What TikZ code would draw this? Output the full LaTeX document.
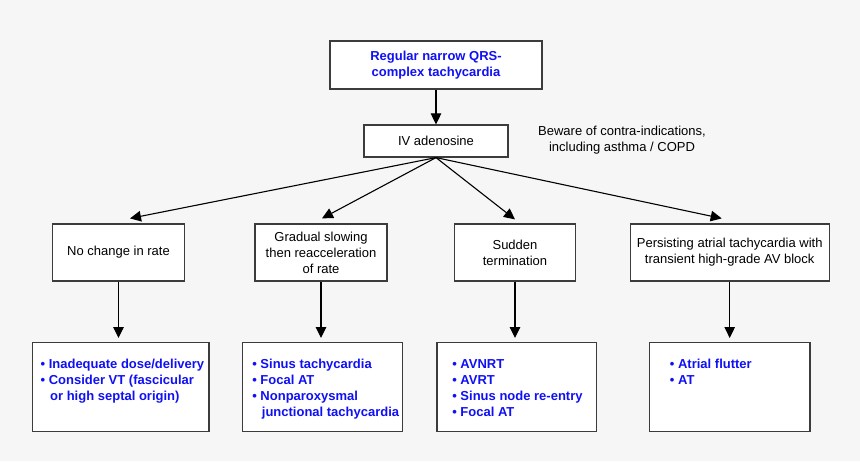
\documentclass[tikz,border=0pt]{standalone}
\usepackage{fontspec}
\setmainfont{Liberation Sans}
\usetikzlibrary{arrows.meta}
\definecolor{bgc}{HTML}{F6F6F6}
\definecolor{qblue}{HTML}{1010F5}
\definecolor{boxc}{HTML}{3C3C3C}
\newcommand{\reslist}[3]{\parbox[c][89pt][t]{#1}{\leftskip=#2\relax\baselineskip=16pt\rule{0pt}{25.5pt}#3}}
\newcommand{\bl}[1]{\mbox{\makebox[8.2pt][l]{\textbullet}#1}}
\newcommand{\cont}[1]{\mbox{\hspace*{9.6pt}#1}}

\begin{document}
\begin{tikzpicture}[x=1pt,y=-1pt,font=\fontsize{13}{16}\selectfont,
  box/.style={draw=boxc,line width=1.2pt,fill=white,inner sep=0pt,align=center},
  res/.style={box,font=\fontsize{13}{16}\selectfont\bfseries\color{qblue}},
  arr/.style={line width=1.1pt,-{Triangle[length=11pt,width=10.5pt]}}]
  \fill[bgc] (0,0) rectangle (860,461);
  \useasboundingbox (0,0) rectangle (860,461);
  % top of the chart
  \node[box,minimum width=212pt,minimum height=48pt,font=\fontsize{13}{16}\selectfont\bfseries\color{qblue}] (qrs) at (436,65) {Regular narrow QRS-\\complex tachycardia};
  \node[box,minimum width=144pt,minimum height=32pt] (iv) at (436,141) {IV adenosine};
  \node[align=center] (note) at (622,140) {Beware of contra-indications,\\including asthma / COPD};
  % responses
  \node[box,minimum width=132pt,minimum height=57pt] (nochg) at (118.5,252.5) {No change in rate};
  \node[box,minimum width=132pt,minimum height=57pt] (slow) at (321,252.5) {Gradual slowing\\then reacceleration\\of rate};
  \node[box,minimum width=121pt,minimum height=57pt] (stop) at (515,252.5) {Sudden\\termination};
  \node[box,minimum width=199pt,minimum height=57pt] (block) at (729.7,252.5) {Persisting atrial tachycardia with\\transient high-grade AV block};
  % diagnoses
  \node[res,anchor=north west] (dx1) at (31.7,342) {\reslist{176.6pt}{8.3pt}{\bl{Inadequate dose/delivery}\\\bl{Consider VT (fascicular}\\\cont{or high septal origin)}}};
  \node[res,anchor=north west] (dx2) at (241.7,342) {\reslist{160.3pt}{10pt}{\bl{Sinus tachycardia}\\\bl{Focal AT}\\\bl{Nonparoxysmal}\\\cont{junctional tachycardia}}};
  \node[res,anchor=north west] (dx3) at (436.3,342) {\reslist{159.7pt}{15.4pt}{\bl{AVNRT}\\\bl{AVRT}\\\bl{Sinus node re-entry}\\\bl{Focal AT}}};
  \node[res,anchor=north west] (dx4) at (648.7,342) {\reslist{160.6pt}{20.6pt}{\bl{Atrial flutter}\\\bl{AT}}};
  % arrows
  \draw[arr] (qrs) -- (iv);
  \draw[arr] (iv.south) -- ([xshift=11.5pt,yshift=5pt]nochg.north);
  \draw[arr] (iv.south) -- ([xshift=1pt,yshift=5pt]slow.north);
  \draw[arr] (iv.south) -- ([yshift=4pt]stop.north);
  \draw[arr] (iv.south) -- ([xshift=-8pt,yshift=5pt]block.north);
  \draw[arr,shorten >=4pt] (nochg.south) -- (nochg.south |- dx1.north);
  \draw[arr,shorten >=4pt] (slow.south) -- (slow.south |- dx2.north);
  \draw[arr,shorten >=4pt] (stop.south) -- (stop.south |- dx3.north);
  \draw[arr,shorten >=4pt] (block.south) -- (block.south |- dx4.north);
\end{tikzpicture}
\end{document}
